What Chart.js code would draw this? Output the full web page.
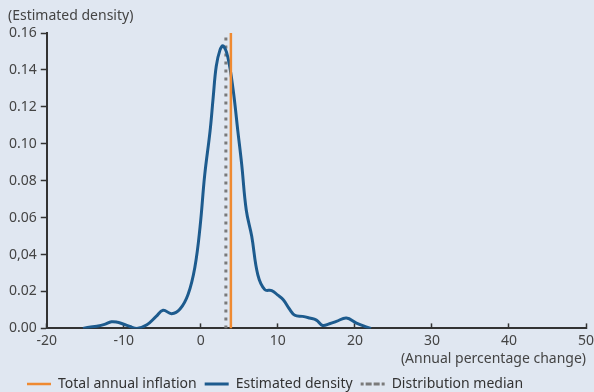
<!DOCTYPE html>
<html>
<head>
<meta charset="utf-8">
<script src="https://cdn.jsdelivr.net/npm/chart.js@4"></script>
<style>
  html, body { margin: 0; padding: 0; background: #e0e7f1; }
  #wrap { width: 594px; height: 392px; }
</style>
</head>
<body>
<div id="wrap"><canvas id="grafico" width="594" height="392"></canvas></div>
<script>
// density estimate (x = annual % change, y = density)
var densityX = [-15.3, -14.5, -13.5, -12.5, -11.6, -10.8, -10.1, -9.2, -8.3, -7.0, -5.8, -4.9, -3.8, -2.7, -1.65, -0.78, -0.1, 0.5, 1.2, 1.6, 2.0, 2.5, 2.9, 3.5, 4.2, 4.8, 5.3, 5.9, 6.6, 7.4, 8.3, 9.2, 10.0, 10.7, 11.5, 12.2, 13.2, 14.1, 15.0, 15.8, 16.7, 17.6, 18.9, 20.2, 21.2, 22.1];
var densityY = [0, 0.0006, 0.0012, 0.0022, 0.0036, 0.0033, 0.0024, 0.001, 0, 0.002, 0.0065, 0.0098, 0.008, 0.0105, 0.0185, 0.033, 0.055, 0.083, 0.107, 0.125, 0.142, 0.151, 0.153, 0.147, 0.129, 0.107, 0.089, 0.064, 0.05, 0.029, 0.021, 0.0205, 0.018, 0.0155, 0.0105, 0.0071, 0.0065, 0.0056, 0.0045, 0.0016, 0.0025, 0.0038, 0.0056, 0.0029, 0.0012, 0];

var totalInflation = 3.9;
var distMedian = 3.25;
var lineBottom = 0;
var lineTop = 0.16;

var yTickLabels = ['0.00', '0.02', '0,04', '0.06', '0.08', '0.10', '0.12', '0.14', '0.16'];
var xTickLabels = ['-20', '-10', '0', '10', '20', '30', '40', '50'];

var seriesNames = ['Total annual inflation', 'Estimated density', 'Distribution median'];

var densityPoints = densityX.map(function (x, i) { return { x: x, y: densityY[i] }; });

var FONT = 'Noto Sans';

var bgPlugin = {
  id: 'bg',
  afterLayout: function (chart) {
    // legend row starts a bit left of centre in the original
    chart.legend.left = 19;
  },
  beforeDraw: function (chart) {
    var c = chart.ctx;
    c.save();
    c.fillStyle = '#e0e7f1';
    c.fillRect(0, 0, chart.width, chart.height);
    c.restore();
  },
  afterDraw: function (chart) {
    var c = chart.ctx;
    c.save();
    c.font = '14px "' + FONT + '"';
    c.fillStyle = '#444';
    c.textBaseline = 'middle';
    c.textAlign = 'left';
    c.fillText('(Estimated density)', 8, 16);
    c.restore();
  }
};

var ctx = document.getElementById('grafico').getContext('2d');
var grafico = new Chart(ctx, {
  type: 'line',
  data: {
    datasets: [{
      label: seriesNames[0],
      data: [{ x: totalInflation, y: lineBottom }, { x: totalInflation, y: lineTop }],
      borderColor: '#ef8a32',
      backgroundColor: 'transparent',
      borderWidth: 2.5,
      pointRadius: 0,
      fill: false
    },
    {
      label: seriesNames[1],
      data: densityPoints,
      borderColor: '#1d5b8e',
      backgroundColor: 'transparent',
      borderWidth: 3,
      pointRadius: 0,
      tension: 0.4,
      fill: false
    },
    {
      label: seriesNames[2],
      data: [{ x: distMedian, y: lineBottom }, { x: distMedian, y: lineTop }],
      borderColor: '#7a7a7a',
      backgroundColor: 'transparent',
      borderWidth: 3,
      borderDash: [3, 5],
      pointRadius: 0,
      fill: false
    }]
  },
  options: {
    responsive: false,
    animation: false,
    layout: { padding: { top: 33, left: 5, right: 0, bottom: -9 } },
    scales: {
      x: {
        type: 'linear',
        min: -20,
        max: 50,
        afterFit: function (scale) { scale.paddingRight = 8; scale.paddingLeft = 0; },
        ticks: {
          stepSize: 10,
          padding: 9,
          color: '#444',
          font: { family: FONT, size: 14 },
          callback: function (v, i) { return xTickLabels[i]; }
        },
        grid: { drawOnChartArea: false, tickLength: -5, color: '#333', tickWidth: 1.5 },
        border: { color: '#333', width: 2 },
        title: {
          display: true,
          text: '(Annual percentage change)',
          align: 'end',
          color: '#444',
          font: { family: FONT, size: 14 },
          padding: { top: -8, bottom: 2 }
        }
      },
      y: {
        min: 0,
        max: 0.16,
        ticks: {
          stepSize: 0.02,
          padding: 4,
          color: '#444',
          font: { family: FONT, size: 14 },
          callback: function (v, i) { return yTickLabels[i]; }
        },
        grid: { drawOnChartArea: false, tickLength: 6, color: '#333', tickWidth: 1.5 },
        border: { color: '#333', width: 2 }
      }
    },
    plugins: {
      legend: {
        position: 'bottom',
        align: 'start',
        labels: {
          boxWidth: 24,
          boxHeight: 0,
          padding: 8,
          color: '#333',
          font: { family: FONT, size: 14 }
        }
      },
      tooltip: { enabled: false }
    }
  },
  plugins: [bgPlugin]
});
</script>
</body>
</html>
